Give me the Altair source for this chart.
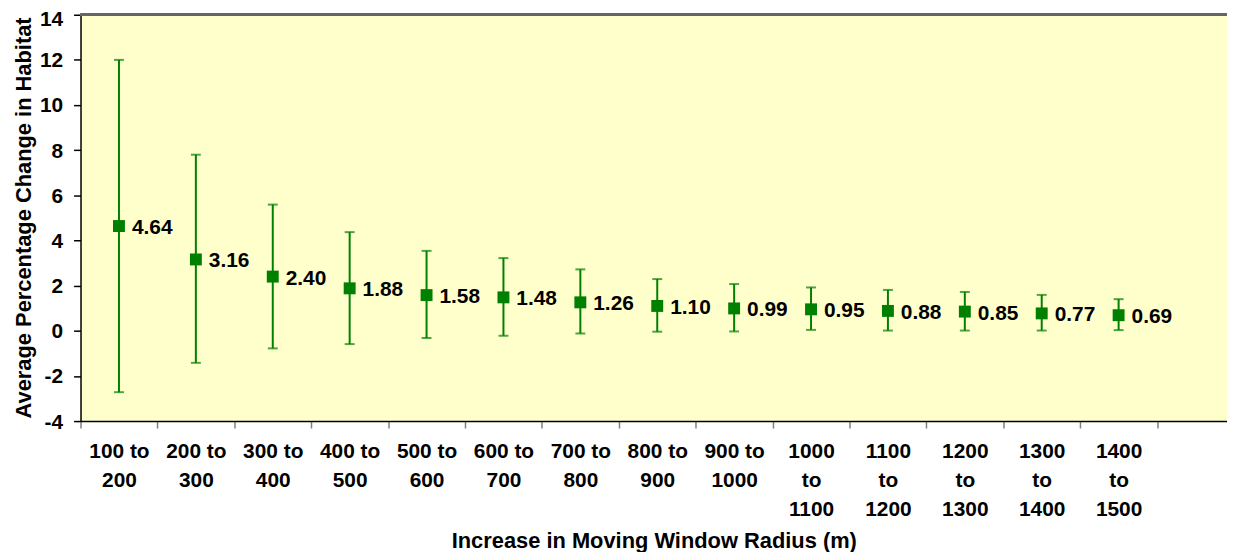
import altair as alt
import pandas as pd

categories = [
    "100 to|200", "200 to|300", "300 to|400", "400 to|500", "500 to|600",
    "600 to|700", "700 to|800", "800 to|900", "900 to|1000",
    "1000|to|1100", "1100|to|1200", "1200|to|1300", "1300|to|1400", "1400|to|1500",
]
means = [4.64, 3.16, 2.40, 1.88, 1.58, 1.48, 1.26, 1.10, 0.99, 0.95, 0.88, 0.85, 0.77, 0.69]
upper = [12.0, 7.8, 5.59, 4.37, 3.54, 3.22, 2.72, 2.29, 2.07, 1.92, 1.81, 1.72, 1.59, 1.40]
lower = [-2.72, -1.42, -0.78, -0.59, -0.32, -0.22, -0.12, -0.04, -0.03, 0.04, 0.01, 0.01, 0.01, 0.03]
y_ticks = [-4, -2, 0, 2, 4, 6, 8, 10, 12, 14]

df = pd.DataFrame({
    "cat": categories,
    "mean": means,
    "upper": upper,
    "lower": lower,
    "label": [f"{m:.2f}" for m in means],
})

GREEN = "#008000"
FONT = "Liberation Sans"
x_domain = categories + [" "]

x_axis = alt.Axis(
    title="Increase in Moving Window Radius (m)",
    labelAngle=0,
    labelExpr="split(datum.label, '|')",
    tickBand="extent",
    tickSize=7,
    tickColor="#808080",
    tickWidth=1.5,
    domainColor="#000000",
    domainWidth=1.5,
    labelBaseline="top",
    labelPadding=13,
    labelLineHeight=29,
    labelFontSize=21,
    labelFont=FONT,
    labelFontWeight="bold",
    labelColor="#000000",
    titleFont=FONT,
    titleFontSize=22,
    titleFontWeight="bold",
    titleColor="#000000",
    titleX=577,
    titleY=127,
    titleBaseline="alphabetic",
    titleAlign="center",
)
x_enc = alt.X(
    "cat:N",
    sort=x_domain,
    scale=alt.Scale(domain=x_domain, range=[0, 1161], paddingInner=0, paddingOuter=0),
    axis=x_axis,
)

y_axis = alt.Axis(
    title="Average Percentage Change in Habitat",
    values=y_ticks,
    labelExpr="datum.value + ''",
    grid=False,
    tickSize=7,
    tickColor="#000000",
    tickWidth=1.5,
    domainColor="#000000",
    domainWidth=1.5,
    labelPadding=11,
    labelOffset={"condition": {"test": "datum.value == 14", "value": 5}, "value": 1},
    labelFontSize=21,
    labelFont=FONT,
    labelFontWeight="bold",
    labelColor="#000000",
    titleFont=FONT,
    titleFontSize=22,
    titleFontWeight="bold",
    titleColor="#000000",
    titleAngle=270,
    titleX=-57,
    titleY=204,
    titleAlign="center",
    titleBaseline="middle",
)
y_scale = alt.Scale(domain=[-4, 14], nice=False, zero=False)

base = alt.Chart(df)

top_border = base.mark_rule(color="#666666", size=2).encode(y=alt.datum(14, scale=y_scale, axis=y_axis))

bars = base.mark_rule(color=GREEN, size=2).encode(
    x=x_enc,
    y=alt.Y("lower:Q", scale=y_scale, axis=y_axis),
    y2="upper:Q",
)
cap_hi = base.mark_tick(color=GREEN, size=10, thickness=2).encode(
    x=x_enc, y=alt.Y("upper:Q", scale=y_scale, axis=y_axis)
)
cap_lo = base.mark_tick(color=GREEN, size=10, thickness=2).encode(
    x=x_enc, y=alt.Y("lower:Q", scale=y_scale, axis=y_axis)
)
points = base.mark_square(size=144, color=GREEN, opacity=1, filled=True).encode(
    x=x_enc, y=alt.Y("mean:Q", scale=y_scale, axis=y_axis)
)
texts = base.mark_text(
    align="left", baseline="middle", dx=13, dy=2,
    fontSize=21, fontWeight="bold", font=FONT, color="#000000",
).encode(
    x=x_enc, y=alt.Y("mean:Q", scale=y_scale, axis=y_axis), text="label:N"
)

chart = (
    alt.layer(top_border, bars, cap_hi, cap_lo, points, texts)
    .properties(
        width=1154,
        height=409,
        autosize=alt.AutoSizeParams(type="none"),
        padding={"left": 73, "top": 5, "right": 0, "bottom": 130},
        background="#ffffff",
    )
    .configure_view(fill="#FFFFCC", stroke=None)
)

chart.save("out.html", embed_options={"renderer": "svg", "actions": False})
